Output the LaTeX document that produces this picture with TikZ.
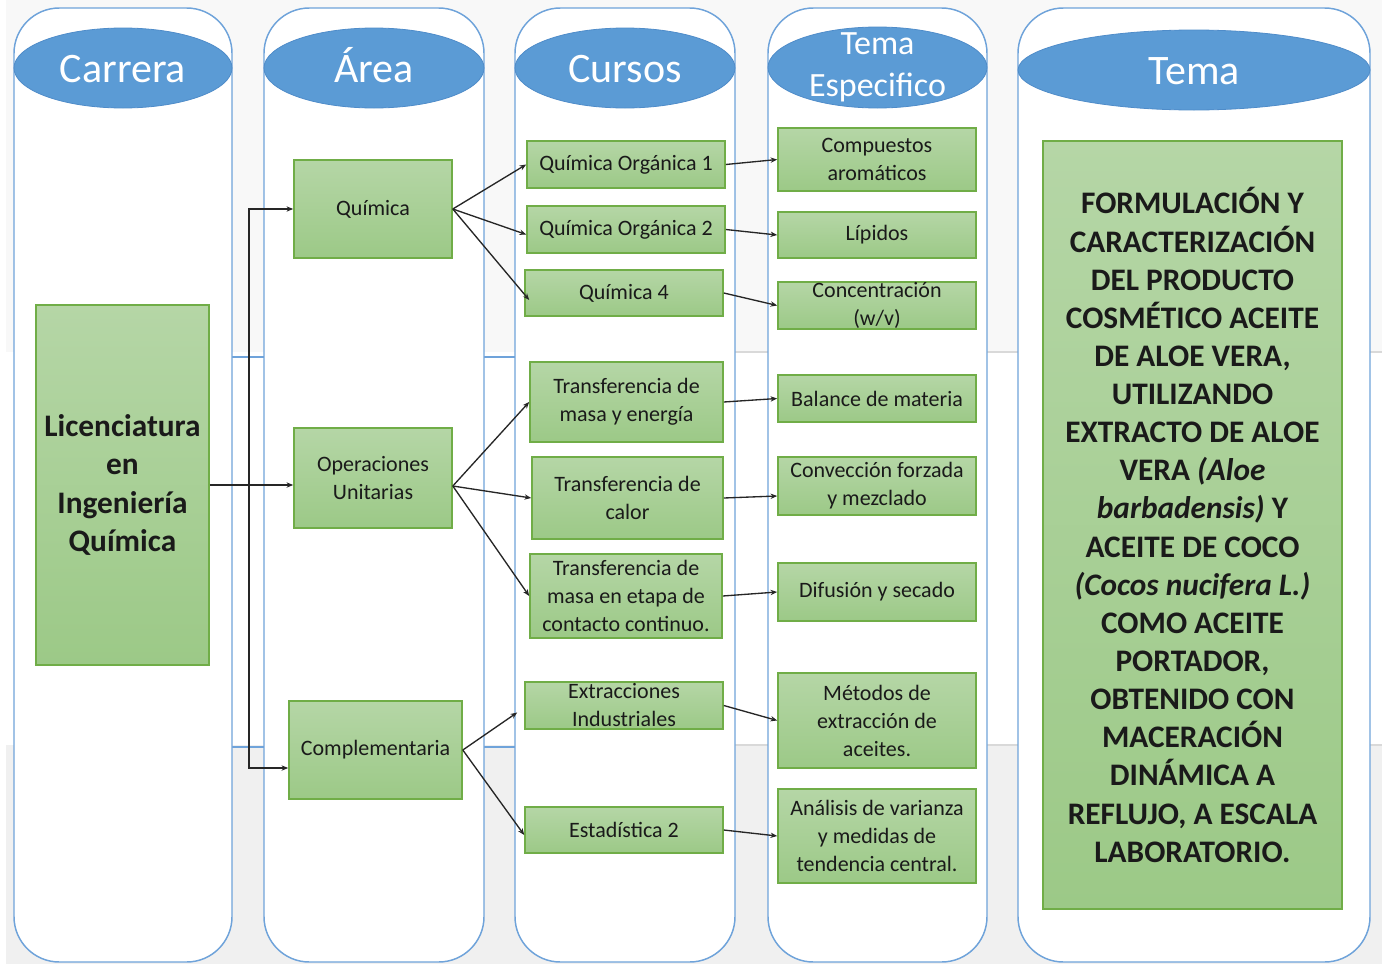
\documentclass[tikz,border=0pt]{standalone}
\usepackage{fontspec}
\setmainfont{Carlito}
\usetikzlibrary{shapes.geometric,arrows.meta,calc}
\definecolor{hdrblue}{HTML}{5B9BD5}
\definecolor{hdredge}{HTML}{4F8CC9}
\definecolor{colline}{HTML}{6FA3DA}
\definecolor{gedge}{HTML}{70AD47}
\definecolor{gtop}{HTML}{B5D6A6}
\definecolor{gbot}{HTML}{9CC987}
\definecolor{bandA}{HTML}{F8F8F8}
\definecolor{bandB}{HTML}{F0F0F0}
\definecolor{bandline}{HTML}{D9D9D9}
\definecolor{txt}{HTML}{1A1A1A}
\begin{document}
\begin{tikzpicture}[x=0.75pt,y=-0.75pt,
 col/.style={draw=colline, line width=1.1pt, fill=white, rounded corners=34pt},
 hdr/.style={ellipse, draw=hdredge, line width=0.6pt, fill=hdrblue, text=white, inner sep=0pt, text height=26pt, text depth=4.5pt, font=\fontsize{31.5}{38}\selectfont},
 hdrtxt/.style={text=white, inner sep=0pt, align=center, font=\fontsize{25.5}{31.5}\selectfont},
 gbox/.style={draw=gedge, line width=1.2pt, top color=gtop, bottom color=gbot, inner sep=0pt, align=center, text=txt, font=\fontsize{16.5}{21}\selectfont},
 gtxt/.style={inner sep=0pt, align=center, text=txt, font=\fontsize{16.5}{21}\selectfont},
 bigtxt/.style={font=\bfseries\fontsize{23.5}{28.6}\selectfont},
 arr/.style={draw=black!85, line width=1pt, -{Stealth[length=5pt,width=4pt]}},
 bl/.style={draw=colline, line width=1.1pt},
 gl/.style={draw=bandline, line width=1pt}
]
\useasboundingbox (0,0) rectangle (1382,964);
% background bands
\fill[white] (0,0) rectangle (1382,964);
\fill[bandA] (6,0) rectangle (1382,352);
\fill[bandB] (6,745) rectangle (1382,964);
\draw[bl] (232,357) -- (264,357);
\draw[bl] (484,357) -- (515,357);
\draw[bl] (232,747) -- (264,747);
\draw[bl] (484,747) -- (515,747);
\draw[gl] (735,352) -- (768,352);
\draw[gl] (987,352) -- (1018,352);
\draw[gl] (1370,352) -- (1382,352);
\draw[gl] (735,745) -- (768,745);
\draw[gl] (987,745) -- (1018,745);
\draw[gl] (1370,745) -- (1382,745);
% columns
\draw[col] (14,8) rectangle (232,962);
\draw[col] (264,8) rectangle (484,962);
\draw[col] (515,8) rectangle (735,962);
\draw[col] (768,8) rectangle (987,962);
\draw[col] (1018,8) rectangle (1370,962);
% headers
\node[hdr, minimum width=163.5pt, minimum height=60pt] (hcar) at (123,68) {Carrera};
\node[hdr, minimum width=165pt, minimum height=60pt] (hare) at (374,68) {Área};
\node[hdr, minimum width=165pt, minimum height=60pt] (hcur) at (625,68) {Cursos};
\node[hdr, minimum width=164.25pt, minimum height=60.75pt, label={[hdrtxt]center:Tema\\Especifico}] (hesp) at (877.5,67.5) {};
\node[hdr, minimum width=264pt, minimum height=60pt] (htem) at (1194,70) {Tema};
% boxes
\node[gbox, minimum width=129.75pt, minimum height=270pt, bigtxt] (lic) at (122.5,485) {Licenciatura\\en\\Ingeniería\\Química};
\node[gbox, minimum width=118.5pt, minimum height=73.5pt] (quim) at (373,209) {Química};
\node[gbox, minimum width=118.5pt, minimum height=75pt] (oper) at (373,478) {Operaciones\\Unitarias};
\node[gbox, minimum width=129.75pt, minimum height=73.5pt] (comp) at (375.5,750) {Complementaria};
\node[gbox, minimum width=148.5pt, minimum height=35.25pt] (qo1) at (626,164.5) {Química Orgánica 1};
\node[gbox, minimum width=148.5pt, minimum height=35.25pt] (qo2) at (626,229.5) {Química Orgánica 2};
\node[gbox, minimum width=148.5pt, minimum height=34.5pt] (q4) at (624,293) {Química 4};
\node[gbox, minimum width=144.75pt, minimum height=60pt] (tme) at (626.5,402) {Transferencia de\\masa y energía};
\node[gbox, minimum width=143.25pt, minimum height=61.5pt] (tc) at (627.5,498) {Transferencia de\\calor};
\node[gbox, minimum width=144pt, minimum height=63pt] (tmc) at (626,596) {Transferencia de\\masa en etapa de\\contacto continuo.};
\node[gbox, minimum width=148.5pt, minimum height=35.25pt, label={[gtxt]center:Extracciones\\Industriales}] (ei) at (624,705.5) {};
\node[gbox, minimum width=148.5pt, minimum height=34.5pt] (est) at (624,830) {Estadística 2};
\node[gbox, minimum width=148.5pt, minimum height=47.25pt] (ca) at (877,159.5) {Compuestos\\aromáticos};
\node[gbox, minimum width=148.5pt, minimum height=34.5pt] (lip) at (877,235) {Lípidos};
\node[gbox, minimum width=148.5pt, minimum height=35.25pt, label={[gtxt]center:Concentración\\(w/v)}] (conc) at (877,305.5) {};
\node[gbox, minimum width=148.5pt, minimum height=35.25pt] (bal) at (877,398.5) {Balance de materia};
\node[gbox, minimum width=148.5pt, minimum height=43.5pt] (conv) at (877,486) {Convección forzada\\y mezclado};
\node[gbox, minimum width=148.5pt, minimum height=43.5pt] (dif) at (877,592) {Difusión y secado};
\node[gbox, minimum width=148.5pt, minimum height=71.25pt] (met) at (877,720.5) {Métodos de\\extracción de\\aceites.};
\node[gbox, minimum width=148.5pt, minimum height=70.5pt] (ana) at (877,836) {Análisis de varianza\\y medidas de\\tendencia central.};
\node[gbox, minimum width=224.25pt, minimum height=576pt, bigtxt] (tema) at (1192.5,525) {FORMULACIÓN Y\\CARACTERIZACIÓN\\DEL PRODUCTO\\COSMÉTICO ACEITE\\DE ALOE VERA,\\UTILIZANDO\\EXTRACTO DE ALOE\\VERA \textit{(Aloe}\\\textit{barbadensis)} Y\\ACEITE DE COCO\\\textit{(Cocos nucifera L.)}\\COMO ACEITE\\PORTADOR,\\OBTENIDO CON\\MACERACIÓN\\DINÁMICA A\\REFLUJO, A ESCALA\\LABORATORIO.};
% connectors
\coordinate (trk) at (249,485);
\coordinate (oo) at ($(oper.east)+(0,8)$);
\draw[arr] (lic.east) -- (lic.east -| oper.west);
\draw[arr] (trk) |- (quim.west);
\draw[arr] (trk) |- ($(comp.west)+(0,18)$);
\draw[arr] (quim.east) -- (qo1.west);
\draw[arr] (quim.east) -- ($(qo2.west)+(0,5)$);
\draw[arr] (quim.east) -- ($(q4.west)+(5,7)$);
\draw[arr] (oo) -- (tme.west);
\draw[arr] (oo) -- (tc.west);
\draw[arr] (oo) -- (tmc.west);
\draw[arr] (comp.east) -- ($(ei.west)+(-7,7)$);
\draw[arr] (comp.east) -- ($(est.west)+(0,5)$);
\draw[arr] (qo1.east) -- (ca.west);
\draw[arr] (qo2.east) -- (lip.west);
\draw[arr] (q4.east) -- (conc.west);
\draw[arr] (tme.east) -- (bal.west);
\draw[arr] (tc.east) -- ($(conv.west)+(0,10)$);
\draw[arr] (tmc.east) -- (dif.west);
\draw[arr] (ei.east) -- (met.west);
\draw[arr] (est.east) -- (ana.west);
\end{tikzpicture}
\end{document}
